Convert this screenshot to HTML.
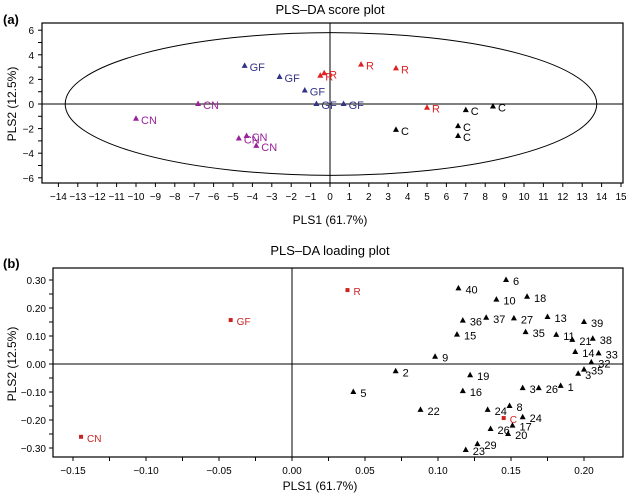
<!DOCTYPE html>
<html><head><meta charset="utf-8"><style>
body{margin:0;background:#fff;width:626px;height:497px;overflow:hidden}
svg{font-family:"Liberation Sans",sans-serif}
</style></head><body>
<svg id="s" width="626" height="497">
<text x="330" y="14" font-size="13" text-anchor="middle">PLS–DA score plot</text>
<text x="3" y="24" font-size="13" font-weight="bold">(a)</text>
<text x="330" y="224" font-size="12" text-anchor="middle">PLS1 (61.7%)</text>
<text transform="translate(16,104) rotate(-90)" font-size="12" text-anchor="middle">PLS2 (12.5%)</text>
<text x="330" y="255" font-size="13" text-anchor="middle">PLS–DA loading plot</text>
<text x="3" y="268" font-size="13" font-weight="bold">(b)</text>
<text x="320" y="490" font-size="12" text-anchor="middle">PLS1 (61.7%)</text>
<text transform="translate(16,364) rotate(-90)" font-size="12" text-anchor="middle">PLS2 (12.5%)</text>
<g id="ga"></g><g id="gb"></g>
</svg>
<script>
// Score plot data
const scoreGroups=["GF","R","C","CN"];
const scoreColors=["#333388","#e02222","#000000","#992299"];
const gfX=[-4.4,-2.6,-1.3,-0.7,0.7], gfY=[3.1,2.2,1.1,0,0];
const rX=[-0.5,-0.3,1.6,3.4,5.0], rY=[2.3,2.5,3.2,2.9,-0.3];
const cX=[3.4,7.0,8.4,6.6,6.6], cY=[-2.1,-0.5,-0.2,-1.8,-2.6];
const cnX=[-10,-6.8,-4.7,-4.3,-3.8], cnY=[-1.2,0,-2.8,-2.6,-3.4];
const scoreXTicks=[-14,-13,-12,-11,-10,-9,-8,-7,-6,-5,-4,-3,-2,-1,0,1,2,3,4,5,6,7,8,9,10,11,12,13,14,15];
const scoreYTicks=[-6,-4,-2,0,2,4,6];
// Loading plot data
const varLabels=["6","40","18","10","36","37","27","13","39","15","35","11","21","38","9","14","33","32","2","19","3","35","5","16","3","26","1","22","24","8","24","26","17","20","29","23"];
const varX=[0.1466,0.114,0.161,0.140,0.117,0.133,0.152,0.175,0.200,0.113,0.160,0.181,0.192,0.206,0.098,0.194,0.210,0.205,0.071,0.122,0.196,0.200,0.042,0.117,0.158,0.169,0.184,0.088,0.134,0.149,0.158,0.136,0.151,0.148,0.127,0.119];
const varY=[0.30,0.27,0.24,0.23,0.155,0.165,0.163,0.168,0.15,0.105,0.114,0.104,0.086,0.09,0.026,0.043,0.038,0.006,-0.026,-0.04,-0.035,-0.02,-0.10,-0.097,-0.086,-0.086,-0.078,-0.164,-0.164,-0.150,-0.19,-0.232,-0.22,-0.25,-0.286,-0.307];
const classLabels=["R","GF","CN","C"];
const classX=[0.038,-0.042,-0.1445,0.145];
const classY=[0.264,0.157,-0.26,-0.193];
const loadXTicks=[-0.15,-0.10,-0.05,0.00,0.05,0.10,0.15,0.20];
const loadYTicks=[-0.30,-0.20,-0.10,0.00,0.10,0.20,0.30];

const NS="http://www.w3.org/2000/svg";
function mk(p,t,a,txt){const e=document.createElementNS(NS,t);for(const k in a)e.setAttribute(k,a[k]);if(txt!=null)e.textContent=txt;p.appendChild(e);return e;}
function tri(p,x,y,c){return mk(p,"polygon",{points:`${x},${y-3.5} ${x-3},${y+2} ${x+3},${y+2}`,fill:c});}

// Panel A
const ga=document.getElementById("ga");
const ax=v=>330+v*19.4, ay=v=>104-v*12.3;
const A={l:42,r:623,t:23,b:183};
let e=mk(ga,"rect",{x:A.l,y:A.t,width:A.r-A.l,height:A.b-A.t,fill:"none",stroke:"#000","stroke-width":1.2});


mk(ga,"line",{x1:A.l,x2:A.r,y1:ay(0),y2:ay(0),stroke:"#000"});
mk(ga,"line",{x1:ax(0),x2:ax(0),y1:A.t,y2:A.b,stroke:"#000"});
e=mk(ga,"ellipse",{cx:ax(0.05),cy:ay(0),rx:13.7*19.4,ry:5.8*12.3,fill:"none",stroke:"#000","stroke-width":1});


scoreXTicks.forEach(v=>{mk(ga,"line",{x1:ax(v),x2:ax(v),y1:A.b,y2:A.b+4,stroke:"#000"});
 const t=mk(ga,"text",{x:ax(v),y:A.b+17,"font-size":10,"text-anchor":"middle"},v<0?"−"+(-v):v);
 
 });
for(let v=-6;v<=6;v++) mk(ga,"line",{x1:A.l-4,x2:A.l,y1:ay(v),y2:ay(v),stroke:"#000"});
scoreYTicks.forEach(v=>{const t=mk(ga,"text",{x:A.l-8,y:ay(v)+4,"font-size":10,"text-anchor":"end"},v<0?"−"+(-v):v);
 
 });
[[gfX,gfY],[rX,rY],[cX,cY],[cnX,cnY]].forEach(([xs,ys],g)=>{
 xs.forEach((x,i)=>{const m=tri(ga,ax(x),ay(ys[i]),scoreColors[g]);
  
  
  const t=mk(ga,"text",{x:ax(x)+5,y:ay(ys[i])+5,"font-size":11,fill:scoreColors[g]},scoreGroups[g]);
  
  });
});

// Panel B
const gb=document.getElementById("gb");
const bx=v=>292+v*1460, by=v=>364-v*280;
const B={l:53,r:623,t:268,b:457};
e=mk(gb,"rect",{x:B.l,y:B.t,width:B.r-B.l,height:B.b-B.t,fill:"none",stroke:"#000","stroke-width":1.2});


mk(gb,"line",{x1:B.l,x2:B.r,y1:by(0),y2:by(0),stroke:"#000"});
mk(gb,"line",{x1:bx(0),x2:bx(0),y1:B.t,y2:B.b,stroke:"#000"});
for(let v=-0.15;v<=0.221;v+=0.025) mk(gb,"line",{x1:bx(v),x2:bx(v),y1:B.b,y2:B.b+4,stroke:"#000"});
loadXTicks.forEach(v=>{const t=mk(gb,"text",{x:bx(v),y:B.b+17,"font-size":10,"text-anchor":"middle"},(v<0?"−":"")+Math.abs(v).toFixed(2));
 
 });
for(let v=-0.30;v<=0.301;v+=0.05) mk(gb,"line",{x1:B.l-4,x2:B.l,y1:by(v),y2:by(v),stroke:"#000"});
loadYTicks.forEach(v=>{const t=mk(gb,"text",{x:B.l-7,y:by(v)+4,"font-size":10,"text-anchor":"end"},(v<0?"−":"")+Math.abs(v).toFixed(2));
 
 });
varX.forEach((x,i)=>{const m=tri(gb,bx(x),by(varY[i]),"#000");
 
 
 const t=mk(gb,"text",{x:bx(x)+7,y:by(varY[i])+5,"font-size":11},varLabels[i]);
 
 });
classX.forEach((x,i)=>{const m=mk(gb,"rect",{x:bx(x)-2,y:by(classY[i])-2,width:4,height:4,fill:"#cc2222"});
 
 
 const t=mk(gb,"text",{x:bx(x)+6,y:by(classY[i])+5,"font-size":10,fill:"#cc2222"},classLabels[i]);
 
 });
</script>
</body></html>
